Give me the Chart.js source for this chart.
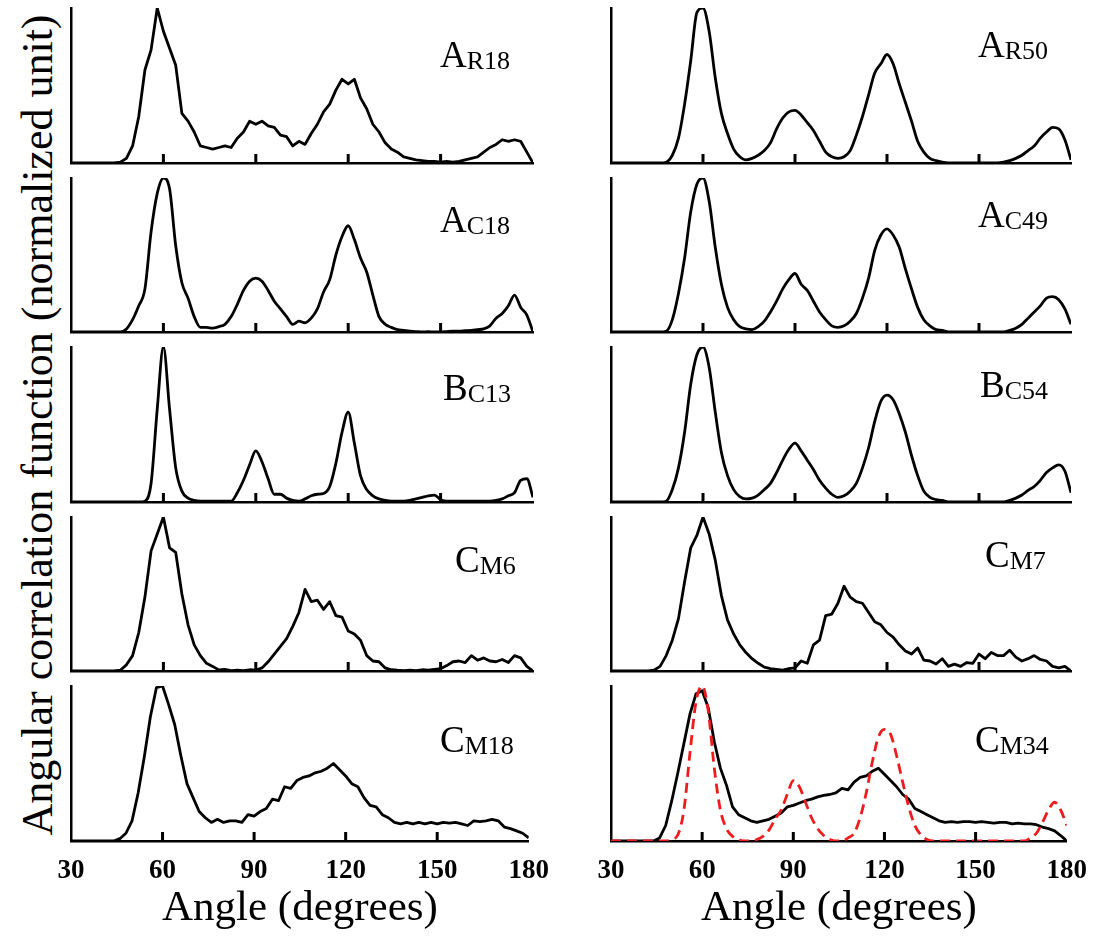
<!DOCTYPE html>
<html>
<head>
<meta charset="utf-8">
<script src="https://cdn.jsdelivr.net/npm/chart.js@4.4.1/dist/chart.umd.min.js"></script>
<style>
html, body
{
    margin: 0;
    padding: 0;
    background: #fff;
}

#page
{
    position: relative;
    width: 1099px;
    height: 940px;
    overflow: hidden;
    background: #fff;
    color: #000;
    font-family: "Liberation Serif", "Times New Roman", serif;
}

#page canvas
{
    position: absolute;
}

.ylabel
{
    position: absolute;
    left: 37px;
    top: 425px;
    font-size: 44px;
    white-space: nowrap;
    transform: translate(-50%, -50%) rotate(-90deg);
}

.tag
{
    position: absolute;
    font-size: 37px;
    line-height: 37px;
    white-space: nowrap;
}

.tag span
{
    font-size: 26px;
    vertical-align: -2px;
}
</style>
</head>
<body>
<div id="page">
    <div class="ylabel">Angular correlation function (normalized unit)</div>
</div>

<script>
// angle grid (degrees)
const angles =
[
    30, 32, 34, 36, 38, 40, 42, 44, 46, 48,
    50, 52, 54, 56, 58, 60, 62, 64, 66, 68,
    70, 72, 74, 76, 78, 80, 82, 84, 86, 88,
    90, 92, 94, 96, 98, 100, 102, 104, 106, 108,
    110, 112, 114, 116, 118, 120, 122, 124, 126, 128,
    130, 132, 134, 136, 138, 140, 142, 144, 146, 148,
    150, 152, 154, 156, 158, 160, 162, 164, 166, 168,
    170, 172, 174, 176, 178, 180
];

const xTickValues = [30, 60, 90, 120, 150, 180];

const aR18 =
[
    0, 0, 0, 0, 0, 0, 0, 0, 0.005, 0.03,
    0.11, 0.3, 0.6, 0.73, 1.0, 0.85, 0.74, 0.63, 0.32, 0.27,
    0.2, 0.11, 0.1, 0.09, 0.1, 0.11, 0.1, 0.16, 0.2, 0.27,
    0.25, 0.27, 0.24, 0.23, 0.18, 0.17, 0.11, 0.14, 0.12, 0.19,
    0.25, 0.33, 0.38, 0.47, 0.54, 0.51, 0.54, 0.42, 0.35, 0.25,
    0.2, 0.13, 0.09, 0.07, 0.04, 0.03, 0.02, 0.015, 0.01, 0.01,
    0.005, 0.01, 0.005, 0.01, 0.02, 0.03, 0.04, 0.07, 0.1, 0.12,
    0.15, 0.14, 0.15, 0.14, 0.07, 0
];

const aR50 =
[
    0, 0, 0, 0, 0, 0, 0, 0, 0, 0.005,
    0.05, 0.16, 0.38, 0.66, 0.97, 1.0, 0.85, 0.55, 0.32, 0.19,
    0.09, 0.04, 0.02, 0.03, 0.05, 0.08, 0.13, 0.22, 0.29, 0.33,
    0.34, 0.31, 0.26, 0.21, 0.14, 0.07, 0.04, 0.03, 0.04, 0.08,
    0.18, 0.3, 0.44, 0.58, 0.64, 0.7, 0.64, 0.51, 0.39, 0.27,
    0.14, 0.07, 0.03, 0.015, 0.005, 0, 0, 0, 0, 0,
    0, 0, 0, 0, 0.005, 0.015, 0.03, 0.05, 0.08, 0.11,
    0.16, 0.2, 0.23, 0.22, 0.15, 0.02
];

const aC18 =
[
    0, 0, 0, 0, 0, 0, 0, 0, 0, 0.02,
    0.08, 0.17, 0.28, 0.65, 0.9, 1.0, 0.93, 0.56, 0.32, 0.22,
    0.1, 0.03, 0.03, 0.025, 0.035, 0.05, 0.1, 0.18, 0.27, 0.33,
    0.35, 0.33, 0.27, 0.2, 0.15, 0.1, 0.05, 0.07, 0.06, 0.09,
    0.15, 0.26, 0.34, 0.5, 0.62, 0.69, 0.6, 0.48, 0.39, 0.24,
    0.1, 0.05, 0.03, 0.015, 0.01, 0.005, 0.003, 0, 0.003, 0,
    0, 0.003, 0.005, 0.005, 0.008, 0.01, 0.015, 0.02, 0.04, 0.09,
    0.12, 0.17, 0.24, 0.16, 0.11, 0
];

const aC49 =
[
    0, 0, 0, 0, 0, 0, 0, 0, 0, 0.005,
    0.08, 0.25, 0.48, 0.78, 0.96, 1.0, 0.85, 0.55, 0.31, 0.16,
    0.08, 0.035, 0.02, 0.015, 0.035, 0.07, 0.13, 0.2, 0.28, 0.34,
    0.38, 0.31, 0.27, 0.2, 0.13, 0.08, 0.04, 0.03, 0.04, 0.07,
    0.12, 0.22, 0.35, 0.53, 0.63, 0.67, 0.63, 0.55, 0.41, 0.28,
    0.16, 0.08, 0.04, 0.015, 0.01, 0, 0, 0, 0, 0,
    0, 0, 0, 0, 0, 0.01, 0.025, 0.05, 0.09, 0.13,
    0.17, 0.22, 0.23, 0.21, 0.15, 0.05
];

const bC13 =
[
    0, 0, 0, 0, 0, 0, 0, 0, 0, 0,
    0, 0, 0.005, 0.12, 0.6, 1.0, 0.6, 0.22, 0.07, 0.025,
    0.01, 0.005, 0.005, 0.005, 0.005, 0.005, 0.005, 0.06, 0.14, 0.24,
    0.33, 0.26, 0.15, 0.05, 0.05, 0.025, 0.01, 0.005, 0.02, 0.04,
    0.05, 0.055, 0.1, 0.25, 0.45, 0.58, 0.38, 0.17, 0.08, 0.04,
    0.02, 0.01, 0.005, 0.005, 0.005, 0.01, 0.02, 0.03, 0.04, 0.045,
    0.015, 0.005, 0.005, 0.005, 0.005, 0.005, 0.005, 0.005, 0.005, 0.01,
    0.02, 0.04, 0.06, 0.14, 0.15, 0.03
];

const bC54 =
[
    0, 0, 0, 0, 0, 0, 0, 0, 0, 0.005,
    0.08, 0.22, 0.45, 0.76, 0.95, 1.0, 0.87, 0.58, 0.32, 0.17,
    0.08, 0.035, 0.02, 0.025, 0.045, 0.08, 0.12, 0.19, 0.27, 0.34,
    0.38, 0.33, 0.27, 0.21, 0.14, 0.09, 0.05, 0.03, 0.04, 0.07,
    0.12, 0.22, 0.35, 0.52, 0.65, 0.69, 0.66, 0.57, 0.45, 0.3,
    0.17, 0.07, 0.03, 0.015, 0.01, 0, 0, 0, 0, 0,
    0, 0, 0, 0, 0, 0.01, 0.025, 0.045, 0.075, 0.1,
    0.14, 0.19, 0.22, 0.24, 0.2, 0.06
];

const cM6 =
[
    0, 0, 0, 0, 0, 0, 0, 0, 0.005, 0.04,
    0.1, 0.25, 0.48, 0.78, 0.89, 1.0, 0.8, 0.77, 0.5, 0.3,
    0.17, 0.1, 0.05, 0.03, 0.007, 0.01, 0.003, 0.005, 0.003, 0.008,
    0.005, 0.02, 0.06, 0.11, 0.16, 0.21, 0.29, 0.38, 0.53, 0.45,
    0.46, 0.4, 0.45, 0.36, 0.35, 0.26, 0.24, 0.2, 0.1, 0.065,
    0.06, 0.02, 0.008, 0.005, 0.003, 0.005, 0.003, 0.008, 0.005, 0.01,
    0.015, 0.035, 0.06, 0.065, 0.055, 0.1, 0.07, 0.085, 0.065, 0.06,
    0.075, 0.055, 0.1, 0.085, 0.03, 0
];

const cM7 =
[
    0, 0, 0, 0, 0, 0, 0, 0.005, 0.03, 0.1,
    0.2, 0.34, 0.58, 0.8, 0.88, 1.0, 0.89, 0.72, 0.49, 0.33,
    0.24, 0.17, 0.12, 0.08, 0.05, 0.025, 0.015, 0.01, 0.005, 0.015,
    0.02, 0.065, 0.05, 0.17, 0.2, 0.36, 0.37, 0.44, 0.55, 0.48,
    0.45, 0.44, 0.38, 0.32, 0.3, 0.25, 0.22, 0.17, 0.13, 0.11,
    0.15, 0.07, 0.065, 0.045, 0.08, 0.03, 0.045, 0.03, 0.055, 0.05,
    0.11, 0.08, 0.12, 0.1, 0.1, 0.135, 0.09, 0.065, 0.08, 0.1,
    0.075, 0.065, 0.03, 0.02, 0.03, 0
];

const cM18 =
[
    0, 0, 0, 0, 0, 0, 0, 0, 0.015, 0.05,
    0.13, 0.31, 0.54, 0.8, 0.99, 1.0, 0.88, 0.75, 0.55, 0.37,
    0.28, 0.19, 0.15, 0.12, 0.14, 0.12, 0.13, 0.13, 0.12, 0.17,
    0.16, 0.19, 0.21, 0.27, 0.26, 0.35, 0.34, 0.39, 0.41, 0.42,
    0.44, 0.45, 0.47, 0.5, 0.46, 0.42, 0.37, 0.35, 0.28, 0.23,
    0.22, 0.17, 0.15, 0.12, 0.11, 0.12, 0.11, 0.12, 0.11, 0.12,
    0.11, 0.12, 0.115, 0.12, 0.11, 0.1, 0.13, 0.125, 0.13, 0.14,
    0.13, 0.09, 0.08, 0.065, 0.05, 0.02
];

const cM34 =
[
    0, 0, 0, 0, 0, 0, 0, 0, 0.02, 0.1,
    0.26, 0.44, 0.63, 0.82, 0.95, 0.97, 0.86, 0.64, 0.47, 0.36,
    0.22, 0.17, 0.15, 0.13, 0.12, 0.13, 0.14, 0.16, 0.18, 0.22,
    0.23, 0.245, 0.26, 0.27, 0.285, 0.295, 0.3, 0.31, 0.34, 0.33,
    0.38, 0.41, 0.42, 0.45, 0.47, 0.43, 0.39, 0.35, 0.3, 0.27,
    0.21, 0.19, 0.17, 0.15, 0.13, 0.12, 0.125, 0.12, 0.125, 0.125,
    0.12, 0.125, 0.12, 0.115, 0.12, 0.12, 0.11, 0.115, 0.11, 0.11,
    0.105, 0.09, 0.08, 0.065, 0.035, 0
];

// ideal peaks drawn in red over C_M34
const cM34Ideal =
[
    0, 0, 0, 0, 0, 0, 0, 0, 0, 0,
    0.01, 0.04, 0.2, 0.57, 0.9, 1.0, 0.84, 0.47, 0.2, 0.08,
    0.03, 0.01, 0, 0, 0.01, 0.03, 0.07, 0.14, 0.2, 0.3,
    0.39, 0.35, 0.25, 0.15, 0.08, 0.035, 0.01, 0, 0, 0.02,
    0.05, 0.15, 0.31, 0.51, 0.67, 0.72, 0.69, 0.55, 0.38, 0.22,
    0.1, 0.04, 0.01, 0, 0, 0, 0, 0, 0, 0,
    0, 0, 0, 0, 0, 0, 0, 0, 0, 0.02,
    0.05, 0.12, 0.2, 0.25, 0.2, 0.1
];

const FONT = "'Liberation Serif', 'Times New Roman', serif";

const colLeft = [71, 611];
const colRight = [533, 1071];
const rowTop = [8, 178, 347, 517, 686];
const rowBottom = [163, 332, 502, 671, 841];
const PAGE_H = 940;
const PAD = 30;

function line(values, smooth)
{
    return {
        values: values,
        color: "#000",
        dash: [],
        smooth: smooth,
        order: 1
    };
}

const panels =
[
    { col: 0, row: 0, name: "A", sub: "R18", tagX: 440, tagBase: 67, series: [line(aR18, false)] },
    { col: 1, row: 0, name: "A", sub: "R50", tagX: 978, tagBase: 57, series: [line(aR50, true)] },
    { col: 0, row: 1, name: "A", sub: "C18", tagX: 440, tagBase: 232, series: [line(aC18, true)] },
    { col: 1, row: 1, name: "A", sub: "C49", tagX: 978, tagBase: 227, series: [line(aC49, true)] },
    { col: 0, row: 2, name: "B", sub: "C13", tagX: 443, tagBase: 400, series: [line(bC13, true)] },
    { col: 1, row: 2, name: "B", sub: "C54", tagX: 980, tagBase: 397, series: [line(bC54, true)] },
    { col: 0, row: 3, name: "C", sub: "M6", tagX: 455, tagBase: 572, series: [line(cM6, false)] },
    { col: 1, row: 3, name: "C", sub: "M7", tagX: 985, tagBase: 567, series: [line(cM7, false)] },
    { col: 0, row: 4, name: "C", sub: "M18", tagX: 440, tagBase: 752, series: [line(cM18, false)] },
    {
        col: 1, row: 4, name: "C", sub: "M34", tagX: 975, tagBase: 752,
        series:
        [
            line(cM34, false),
            { values: cM34Ideal, color: "#ee1c1c", dash: [10, 6], smooth: true, order: 0 }
        ]
    }
];

// short tick marks pointing up into the plot
const innerTicks =
{
    id: "innerTicks",
    afterDraw(chart)
    {
        const xScale = chart.scales.x;
        const ctx = chart.ctx;
        const bottom = chart.chartArea.bottom;

        ctx.save();
        ctx.strokeStyle = "#000";
        ctx.lineWidth = 3;
        ctx.setLineDash([]);
        ctx.beginPath();

        xTickValues.forEach((v) =>
        {
            if (v <= xTickValues[0] || v >= xTickValues[xTickValues.length - 1])
            {
                return;
            }

            const px = xScale.getPixelForValue(v);
            ctx.moveTo(px, bottom);
            ctx.lineTo(px, bottom - 9);
        });

        ctx.stroke();
        ctx.restore();
    }
};

function createDataset(s)
{
    return {
        data: angles.map((a, i) =>
        {
            return { x: a, y: s.values[i] };
        }),
        borderColor: s.color,
        borderWidth: 2.8,
        borderDash: s.dash,
        borderJoinStyle: "round",
        pointRadius: 0,
        fill: false,
        tension: 0,
        cubicInterpolationMode: s.smooth ? "monotone" : "default",
        order: s.order
    };
}

function createPanel(p)
{
    const page = document.getElementById("page");
    const isBottom = p.row === rowTop.length - 1;

    const left = colLeft[p.col];
    const right = colRight[p.col];
    const top = rowTop[p.row];
    const bottom = rowBottom[p.row];

    const canvas = document.createElement("canvas");
    const cw = (right - left) + PAD * 2;
    const ch = isBottom ? PAGE_H - (top - 6) : (bottom - top) + 12;

    canvas.width = cw;
    canvas.height = ch;
    canvas.style.left = (left - PAD) + "px";
    canvas.style.top = (top - 6) + "px";
    canvas.style.width = cw + "px";
    canvas.style.height = ch + "px";
    page.appendChild(canvas);

    const tag = document.createElement("div");
    tag.className = "tag";
    tag.style.left = p.tagX + "px";
    tag.style.top = (p.tagBase - 31) + "px";
    tag.innerHTML = p.name + "<span>" + p.sub + "</span>";
    page.appendChild(tag);

    return new Chart(canvas.getContext("2d"),
    {
        type: "line",
        data:
        {
            datasets: p.series.map(createDataset)
        },
        options:
        {
            responsive: false,
            animation: false,
            layout:
            {
                padding:
                {
                    left: PAD,
                    right: PAD,
                    top: 6,
                    bottom: isBottom ? 0 : 6
                }
            },
            plugins:
            {
                legend: { display: false },
                tooltip: { enabled: false }
            },
            scales:
            {
                x:
                {
                    type: "linear",
                    min: xTickValues[0],
                    max: xTickValues[xTickValues.length - 1],
                    afterBuildTicks(scale)
                    {
                        scale.ticks = xTickValues.map((v) =>
                        {
                            return { value: v };
                        });
                    },
                    grid:
                    {
                        display: false,
                        drawTicks: false
                    },
                    border:
                    {
                        display: true,
                        color: "#000",
                        width: 2.5
                    },
                    ticks:
                    {
                        display: isBottom,
                        color: "#000",
                        padding: 14,
                        maxRotation: 0,
                        autoSkip: false,
                        font:
                        {
                            family: FONT,
                            size: 27,
                            weight: "bold"
                        }
                    },
                    title:
                    {
                        display: isBottom,
                        text: "Angle (degrees)",
                        color: "#000",
                        padding: { top: 0, bottom: 5 },
                        font:
                        {
                            family: FONT,
                            size: 43
                        }
                    },
                    afterFit(scale)
                    {
                        if (isBottom)
                        {
                            scale.height = PAGE_H - bottom;
                        }
                    }
                },
                y:
                {
                    min: 0,
                    max: 1,
                    grid:
                    {
                        display: false,
                        drawTicks: false
                    },
                    border:
                    {
                        display: true,
                        color: "#000",
                        width: 2.5
                    },
                    ticks:
                    {
                        display: false
                    }
                }
            }
        },
        plugins: [innerTicks]
    });
}

window.addEventListener("load", () =>
{
    if (typeof Chart === "undefined")
    {
        console.warn("Chart.js not loaded");
        return;
    }

    panels.forEach(createPanel);
});
</script>
</body>
</html>
